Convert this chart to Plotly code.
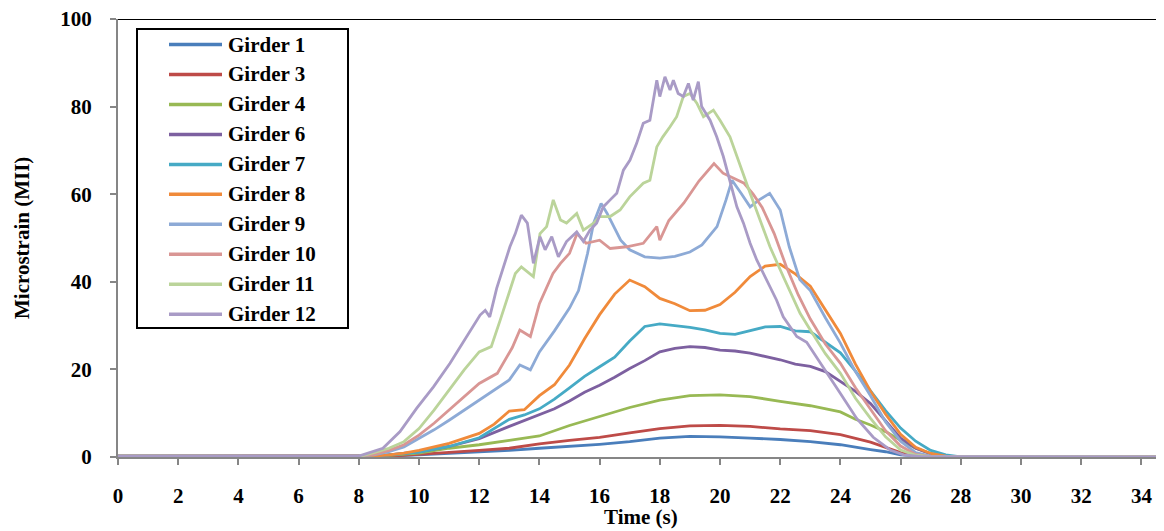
import plotly.graph_objects as go

# ---- data (time in s, microstrain) ----
t_g1 = [0, 9, 10, 11, 12, 13, 14, 15, 16, 17, 18, 19, 20, 21, 22, 23, 24, 25, 25.5, 26, 26.5, 27, 34.7]
v_g1 = [0.2, 0.2, 0.5, 0.8, 1.1, 1.5, 2.0, 2.4, 2.9, 3.5, 4.3, 4.7, 4.6, 4.3, 4.0, 3.5, 2.8, 1.7, 1.2, 0.5, 0.2, 0.0, 0.0]

t_g3 = [0, 9, 10, 11, 12, 13, 14, 15, 16, 17, 18, 19, 20, 21, 22, 23, 24, 25, 25.5, 26, 26.5, 27, 34.7]
v_g3 = [0.2, 0.2, 0.6, 1.0, 1.5, 2.0, 3.0, 3.8, 4.5, 5.5, 6.5, 7.1, 7.2, 7.0, 6.4, 6.0, 5.1, 3.4, 2.2, 1.0, 0.3, 0.0, 0.0]

t_g4 = [0, 8.5, 9, 10, 11, 12, 13, 14, 15, 16, 17, 18, 19, 20, 21, 22, 23, 24, 24.5, 25, 25.5, 26, 26.5, 27, 27.5, 34.7]
v_g4 = [0.2, 0.2, 0.4, 0.9, 2.0, 2.8, 3.8, 4.8, 7.2, 9.3, 11.3, 13.0, 14.0, 14.2, 13.8, 12.7, 11.7, 10.3, 8.6, 7.3, 5.8, 3.8, 2.0, 0.8, 0.2, 0.0]

t_g6 = [0, 8.5, 9, 10, 11, 12, 13, 14, 14.5, 15, 15.5, 16, 16.5, 17, 17.5, 18, 18.5, 19, 19.5, 20,
        20.5, 21, 21.5, 22, 22.5, 23, 23.5, 24, 24.5, 25, 25.5, 26, 26.5, 27, 27.5, 34.7]
v_g6 = [0.2, 0.2, 0.5, 1.2, 2.4, 4.2, 7.0, 9.6, 11.0, 12.8, 14.8, 16.4, 18.2, 20.2, 22.0, 24.0, 24.8, 25.2, 25.0, 24.4,
        24.2, 23.7, 23.0, 22.2, 21.2, 20.7, 19.5, 17.3, 15.0, 12.2, 8.2, 4.3, 2.0, 0.7, 0.2, 0.0]

t_g7 = [0, 8.5, 9, 10, 11, 12, 13, 13.5, 14, 14.5, 15, 15.5, 16, 16.5, 17, 17.5, 18, 18.5, 19, 19.5, 20,
        20.5, 21, 21.5, 22, 22.5, 23, 23.5, 24, 24.5, 25, 25.5, 26, 26.5, 27, 27.5, 28, 34.7]
v_g7 = [0.2, 0.2, 0.5, 1.1, 2.4, 4.4, 8.6, 9.6, 11.0, 13.2, 15.8, 18.4, 20.6, 22.8, 26.5, 29.8, 30.4, 30.0, 29.6, 29.0, 28.2,
        28.0, 28.8, 29.7, 29.8, 28.8, 28.6, 26.3, 23.8, 19.6, 15.2, 10.6, 6.6, 3.6, 1.5, 0.5, 0.0, 0.0]

t_g8 = [0, 8.5, 9, 9.5, 10, 11, 12, 12.5, 13, 13.5, 14, 14.5, 15, 15.5, 16, 16.5, 17, 17.5, 18, 18.5, 19,
        19.5, 20, 20.5, 21, 21.5, 22, 22.5, 23, 23.5, 24, 24.5, 25, 25.5, 26, 26.5, 27, 27.5, 34.7]
v_g8 = [0.2, 0.2, 0.5, 0.9, 1.5, 3.1, 5.4, 7.5, 10.5, 10.8, 14.0, 16.5, 21.0, 27.0, 32.5, 37.2, 40.4, 38.9, 36.2, 35.0, 33.4,
        33.5, 34.8, 37.6, 41.2, 43.6, 44.0, 41.8, 39.0, 33.6, 28.2, 21.2, 15.0, 9.8, 5.2, 2.2, 0.8, 0.2, 0.0]

t_g9 = [0, 8, 8.5, 9, 9.5, 10, 10.5, 11, 11.5, 12, 12.5, 13, 13.35, 13.7, 14, 14.5, 15, 15.3, 15.6, 15.8,
        16.05, 16.25, 16.7, 17, 17.5, 18, 18.5, 19, 19.4, 19.9, 20.2, 20.4, 20.7, 21, 21.3, 21.65, 22, 22.3,
        22.65, 23, 23.5, 24, 24.5, 25, 25.5, 26, 26.5, 27, 34.7]
v_g9 = [0.2, 0.2, 0.5, 1.2, 2.3, 4.2, 6.2, 8.4, 10.7, 13.0, 15.5, 17.6, 21.0, 19.9, 24.0, 28.8, 34.0, 38.0, 46.5, 53.4,
        57.9, 55.6, 49.5, 47.3, 45.7, 45.4, 45.8, 46.8, 48.4, 52.6, 58.7, 63.2, 60.2, 57.1, 58.7, 60.2, 56.4, 48.0,
        40.5, 38.0, 31.8, 26.0, 19.5, 14.0, 8.0, 3.6, 1.0, 0.2, 0.0]

t_g10 = [0, 8, 8.5, 9, 9.5, 10, 10.5, 11, 11.5, 12, 12.6, 13.1, 13.35, 13.7, 14.0, 14.45, 14.7, 15.0, 15.25,
         15.55, 16, 16.35, 16.9, 17.45, 17.9, 18.0, 18.3, 18.8, 19.3, 19.8, 20.1, 20.5, 20.8, 21.1, 21.4, 21.8,
         22.2, 22.6, 23, 23.5, 24, 24.5, 25, 25.5, 26, 26.5, 27, 34.7]
v_g10 = [0.2, 0.2, 0.6, 1.5, 2.8, 5.0, 7.7, 10.7, 13.8, 16.8, 19.1, 25.0, 29.0, 27.5, 35.0, 41.9, 44.2, 46.5, 51.0,
         48.8, 49.5, 47.6, 48.0, 48.8, 52.6, 49.5, 54.0, 58.0, 63.0, 67.0, 64.8, 63.5, 62.5, 60.0, 57.0, 51.0,
         43.5, 37.0, 31.5, 25.8, 21.4, 15.8, 10.8, 6.0, 2.5, 0.6, 0.1, 0.0]

t_g11 = [0, 8, 8.5, 9, 9.5, 10, 10.5, 11, 11.5, 12, 12.4, 12.7, 13.0, 13.2, 13.4, 13.8, 14.02, 14.24, 14.46,
         14.7, 14.9, 15.24, 15.46, 15.8, 16.0, 16.35, 16.68, 17.0, 17.45, 17.67, 17.9, 18.1, 18.34, 18.56, 18.78,
         19.0, 19.23, 19.45, 19.78, 20.0, 20.33, 20.67, 21.0, 21.33, 21.66, 22.1, 22.66, 23.0, 23.5, 24, 24.5,
         25, 25.5, 26, 26.5, 27, 34.7]
v_g11 = [0.2, 0.1, 1.0, 2.0, 3.5, 6.5, 10.7, 15.3, 19.9, 24.0, 25.2, 31.3, 37.4, 41.9, 43.4, 41.2, 51.0, 52.6, 58.7,
         54.1, 53.4, 55.6, 51.8, 53.4, 54.9, 54.9, 56.4, 59.4, 62.5, 63.2, 70.8, 73.1, 75.4, 77.7, 82.3,
         83.0, 80.8, 77.7, 79.2, 76.9, 73.1, 66.3, 60.2, 54.1, 48.0, 41.2, 32.8, 29.0, 23.6, 19.1, 13.4,
         8.8, 4.6, 1.6, 0.4, 0.1, 0.0]

t_g12 = [0, 8, 8.8, 9.37, 9.92, 10.48, 11.03, 11.58, 12.03, 12.2, 12.35, 12.58, 13.02, 13.2, 13.4, 13.6, 13.8,
         14.02, 14.19, 14.41, 14.63, 14.9, 15.24, 15.46, 15.68, 15.9, 16.12, 16.35, 16.57, 16.79, 17.01, 17.23,
         17.45, 17.67, 17.9, 18.0, 18.17, 18.34, 18.45, 18.61, 18.78, 18.95, 19.11, 19.28, 19.39, 19.67, 19.89,
         20.11, 20.33, 20.56, 20.78, 21.0, 21.22, 21.44, 21.66, 21.88, 22.1, 22.33, 22.55, 22.88, 23.43, 24.0,
         24.54, 25.09, 25.65, 26.1, 26.7, 34.7]
v_g12 = [0.2, 0.2, 2.0, 5.8, 11.1, 16.0, 21.4, 27.5, 32.4, 33.5, 32.0, 38.5, 48.0, 51.0, 55.2, 53.4, 44.2,
         50.3, 47.3, 50.3, 45.7, 49.2, 51.4, 49.2, 51.8, 53.4, 57.1, 58.7, 60.2, 65.5, 67.8, 71.6,
         76.2, 76.9, 86.0, 82.3, 86.8, 83.8, 86.0, 83.0, 82.3, 85.3, 81.5, 85.7, 80.0, 76.9, 73.1,
         68.6, 63.2, 57.1, 53.4, 48.8, 45.0, 41.9, 38.9, 35.8, 32.0, 29.7, 27.5, 26.2, 20.6, 14.5,
         8.8, 4.5, 1.6, 0.5, 0.1, 0.0]

names = ["Girder 1", "Girder 3", "Girder 4", "Girder 6", "Girder 7",
         "Girder 8", "Girder 9", "Girder 10", "Girder 11", "Girder 12"]
times = [t_g1, t_g3, t_g4, t_g6, t_g7, t_g8, t_g9, t_g10, t_g11, t_g12]
values = [v_g1, v_g3, v_g4, v_g6, v_g7, v_g8, v_g9, v_g10, v_g11, v_g12]
colors = ["#4A7EBB", "#BE4B48", "#98B954", "#7D60A0", "#46AAC5",
          "#F08A3A", "#8DAAD6", "#D99694", "#BBD49A", "#A99BC6"]

x_ticks = list(range(0, 35, 2))
y_ticks = list(range(0, 101, 20))

FONT = "Liberation Serif, Times New Roman, serif"

# page body adds an 8 px offset; plot area in page pixels: x 118..1164, y 19..457
PL, PR, PT, PB = 118, 1164, 19, 457
PW, PH = PR - PL, PB - PT


def px(x):
    return (x - PL) / PW


def py(y):
    return (PB - y) / PH


fig = go.Figure()
for n, t, v, c in zip(names, times, values, colors):
    fig.add_trace(go.Scatter(x=t, y=v, mode="lines", name=n,
                             line=dict(color=c, width=2.8)))

shapes = [dict(type="line", xref="paper", yref="y", x0=0, x1=1, y0=100, y1=100,
               line=dict(color="black", width=2))]
annotations = [
    dict(text="Time (s)", xref="paper", yref="paper", x=0.5, y=py(517),
         xanchor="center", yanchor="middle", showarrow=False,
         font=dict(family=FONT, size=21, color="black", weight="bold")),
    dict(text="Microstrain (MII)", xref="paper", yref="paper", x=px(22), y=0.5,
         xanchor="center", yanchor="middle", showarrow=False, textangle=-90,
         font=dict(family=FONT, size=21, color="black", weight="bold")),
]

# legend box (drawn by hand to match the reference's proportions)
shapes.append(dict(type="rect", xref="paper", yref="paper",
                   x0=px(137), x1=px(348), y0=py(29), y1=py(328),
                   line=dict(color="black", width=2), fillcolor="white", layer="above"))
for i, (n, c) in enumerate(zip(names, colors)):
    yy = 44.5 + i * 29.97
    shapes.append(dict(type="line", xref="paper", yref="paper",
                       x0=px(169), x1=px(222), y0=py(yy), y1=py(yy),
                       line=dict(color=c, width=3.5), layer="above"))
    annotations.append(dict(text=n, xref="paper", yref="paper", x=px(226), y=py(yy),
                            xanchor="left", yanchor="middle", showarrow=False,
                            font=dict(family=FONT, size=21, color="black", weight="bold")))

fig.update_layout(
    width=1156, height=523,
    margin=dict(l=110, r=0, t=11, b=74, autoexpand=False),
    paper_bgcolor="white", plot_bgcolor="white",
    font=dict(family=FONT, color="black", size=20, weight="bold"),
    showlegend=False,
    xaxis=dict(range=[0, 34.75], tickmode="array", tickvals=x_ticks,
               ticktext=[str(v) for v in x_ticks],
               showgrid=False, zeroline=False, showline=True,
               linecolor="#868686", linewidth=2, ticks="outside", ticklen=6,
               tickcolor="#868686", tickwidth=2, ticklabelstandoff=13,
               ticklabeloverflow="allow",
               tickfont=dict(family=FONT, size=21, color="black", weight="bold")),
    yaxis=dict(range=[0, 100], tickmode="array", tickvals=y_ticks,
               ticktext=[str(v) for v in y_ticks],
               showgrid=False, zeroline=False, showline=True,
               linecolor="#868686", linewidth=2, ticks="outside", ticklen=6,
               tickcolor="#868686", tickwidth=2, ticklabelstandoff=14,
               ticklabeloverflow="allow",
               tickfont=dict(family=FONT, size=21, color="black", weight="bold")),
    annotations=annotations,
    shapes=shapes,
)

fig.write_html("out.html")
